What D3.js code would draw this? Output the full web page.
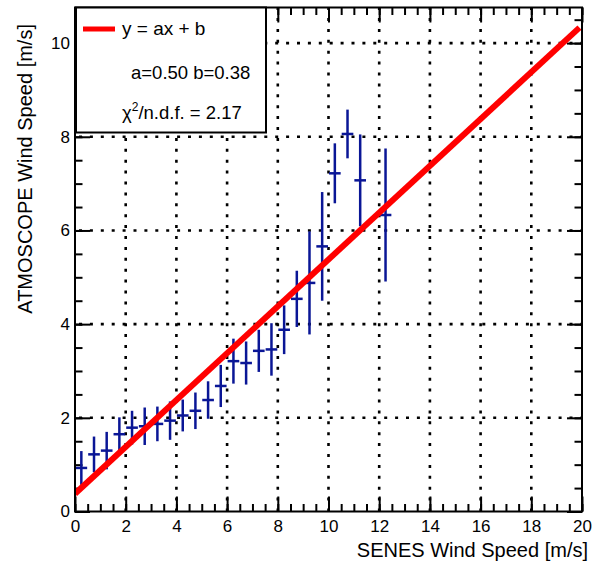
<!DOCTYPE html>
<html>
<head>
<meta charset="utf-8">
<script src="https://cdn.jsdelivr.net/npm/d3@7"></script>
<style>
  body { margin: 0; background: #fff; }
  svg { font-family: 'Liberation Sans', Arial, Helvetica, sans-serif; }
  .tick text { font-size: 17px; fill: #000; }
  .tick line { stroke: #000; stroke-width: 2; }
  .grid line { stroke: #000; stroke-width: 2.6; stroke-dasharray: 3, 7.9; }
</style>
</head>
<body>
<svg id="main" width="599" height="563"></svg>
<script>
// bin centres (SENES) and profile means (ATMOSCOPE)
const senes = [0.25, 0.75, 1.25, 1.75, 2.25, 2.75, 3.25, 3.75, 4.25, 4.75, 5.25, 5.75,
               6.25, 6.75, 7.25, 7.75, 8.25, 8.75, 9.25, 9.75, 10.25, 10.75, 11.25, 12.25];
const atmo = [0.93, 1.22, 1.30, 1.65, 1.79, 1.82, 1.87, 1.94, 2.05, 2.15, 2.38, 2.68,
              3.21, 3.17, 3.43, 3.46, 3.88, 4.54, 4.88, 5.66, 7.22, 8.06, 7.07, 6.33];
const atmoErr = [0.36, 0.38, 0.40, 0.36, 0.36, 0.40, 0.37, 0.41, 0.34, 0.39, 0.40, 0.45,
                 0.48, 0.46, 0.45, 0.56, 0.52, 0.60, 1.10, 1.16, 0.64, 0.52, 0.98, 1.42];
const binHalf = 0.23;

// fit y = a x + b
const fitA = 0.50;
const fitB = 0.38;
const fitRange = [0, 19.9];
const chi2 = '2.17';

const xMajor = [0, 2, 4, 6, 8, 10, 12, 14, 16, 18, 20];
const yMajor = [0, 2, 4, 6, 8, 10];
const xMinor = d3.range(0, 20.01, 0.5);
const yMinor = d3.range(0, 10.76, 0.5);
const xDomain = [0, 20];
const yDomain = [0, 10.76];

const svg = d3.select('svg#main');
const margin = { top: 7.5, right: 17, bottom: 51.5, left: 75 };
const width = 599 - margin.left - margin.right;
const height = 563 - margin.top - margin.bottom;

const chart = svg.append('g')
  .attr('transform', `translate(${margin.left}, ${margin.top})`);

const xScale = d3.scaleLinear().domain(xDomain).range([0, width]);
const yScale = d3.scaleLinear().domain(yDomain).range([height, 0]);

chart.append('clipPath').attr('id', 'frame')
  .append('rect').attr('width', width).attr('height', height);

// dotted grid
chart.append('g')
  .attr('class', 'grid')
  .selectAll('line')
  .data(xMajor.slice(1, -1))
  .enter()
  .append('line')
  .attr('x1', d => xScale(d))
  .attr('x2', d => xScale(d))
  .attr('y1', height)
  .attr('y2', 0);

chart.append('g')
  .attr('class', 'grid')
  .selectAll('line')
  .data(yMajor.slice(1))
  .enter()
  .append('line')
  .attr('x1', 0)
  .attr('x2', width)
  .attr('y1', d => yScale(d))
  .attr('y2', d => yScale(d))
  .style('stroke-dashoffset', -4);

// ticks on all four sides, pointing in
const addAxis = (axis, tr) => {
  const g = chart.append('g').attr('transform', tr).call(axis);
  g.select('.domain').remove();
  return g;
};

addAxis(d3.axisBottom(xScale).tickValues(xMajor).tickSize(-15).tickPadding(8)
  .tickFormat(d3.format('d')), `translate(0, ${height})`);
addAxis(d3.axisBottom(xScale).tickValues(xMinor).tickSize(-7.5).tickFormat(''),
  `translate(0, ${height})`);
addAxis(d3.axisTop(xScale).tickValues(xMajor).tickSize(-15).tickFormat(''), 'translate(0, 0)');
addAxis(d3.axisTop(xScale).tickValues(xMinor).tickSize(-7.5).tickFormat(''), 'translate(0, 0)');

addAxis(d3.axisLeft(yScale).tickValues(yMajor).tickSize(-15).tickPadding(5)
  .tickFormat(d3.format('d')), 'translate(0, 0)');
addAxis(d3.axisLeft(yScale).tickValues(yMinor).tickSize(-7.5).tickFormat(''), 'translate(0, 0)');
addAxis(d3.axisRight(yScale).tickValues(yMajor).tickSize(-15).tickFormat(''), `translate(${width}, 0)`);
addAxis(d3.axisRight(yScale).tickValues(yMinor).tickSize(-7.5).tickFormat(''), `translate(${width}, 0)`);

// data points with error bars
const points = chart.append('g')
  .attr('stroke', '#0a1696')
  .attr('stroke-width', 2.5)
  .selectAll('g')
  .data(senes.map((x, i) => ({ x: x, y: atmo[i], e: atmoErr[i] })))
  .enter()
  .append('g');

points.append('line')
  .attr('x1', d => xScale(d.x))
  .attr('x2', d => xScale(d.x))
  .attr('y1', d => yScale(d.y - d.e))
  .attr('y2', d => yScale(d.y + d.e));

points.append('line')
  .attr('x1', d => xScale(d.x - binHalf))
  .attr('x2', d => xScale(d.x + binHalf))
  .attr('y1', d => yScale(d.y))
  .attr('y2', d => yScale(d.y));

// fitted line
const fitLine = d3.line()
  .x(d => xScale(d))
  .y(d => yScale(fitA * d + fitB));

chart.append('path')
  .datum(fitRange)
  .attr('clip-path', 'url(#frame)')
  .attr('d', fitLine)
  .attr('fill', 'none')
  .attr('stroke', '#ff0000')
  .attr('stroke-width', 6);

// frame
chart.append('rect')
  .attr('width', width)
  .attr('height', height)
  .attr('fill', 'none')
  .attr('stroke', '#000')
  .attr('stroke-width', 2);

// legend
const legend = chart.append('g').attr('transform', 'translate(1, 0)');
legend.append('rect')
  .attr('width', 190)
  .attr('height', 125)
  .attr('fill', '#fff')
  .attr('stroke', '#000')
  .attr('stroke-width', 2);

legend.append('line')
  .attr('x1', 7).attr('x2', 39)
  .attr('y1', 21.5).attr('y2', 21.5)
  .attr('stroke', '#ff0000')
  .attr('stroke-width', 5);

legend.append('text')
  .attr('x', 46).attr('y', 27.5)
  .attr('font-size', 19)
  .text('y = ax + b');

legend.append('text')
  .attr('x', 55).attr('y', 71.5)
  .attr('font-size', 18.5)
  .text(`a=${fitA.toFixed(2)} b=${fitB.toFixed(2)}`);

const chiText = legend.append('text')
  .attr('x', 46).attr('y', 111)
  .attr('font-size', 18.5);
chiText.append('tspan').text('χ');
chiText.append('tspan').attr('font-size', 12).attr('dy', -8).text('2');
chiText.append('tspan').attr('dy', 8).text(`/n.d.f. = ${chi2}`);

// axis titles
svg.append('text')
  .attr('x', 588)
  .attr('y', 556.5)
  .attr('text-anchor', 'end')
  .attr('font-size', 20)
  .text('SENES Wind Speed [m/s]');

svg.append('text')
  .attr('transform', 'translate(32, 24) rotate(-90)')
  .attr('text-anchor', 'end')
  .attr('font-size', 20)
  .text('ATMOSCOPE Wind Speed [m/s]');
</script>
</body>
</html>
